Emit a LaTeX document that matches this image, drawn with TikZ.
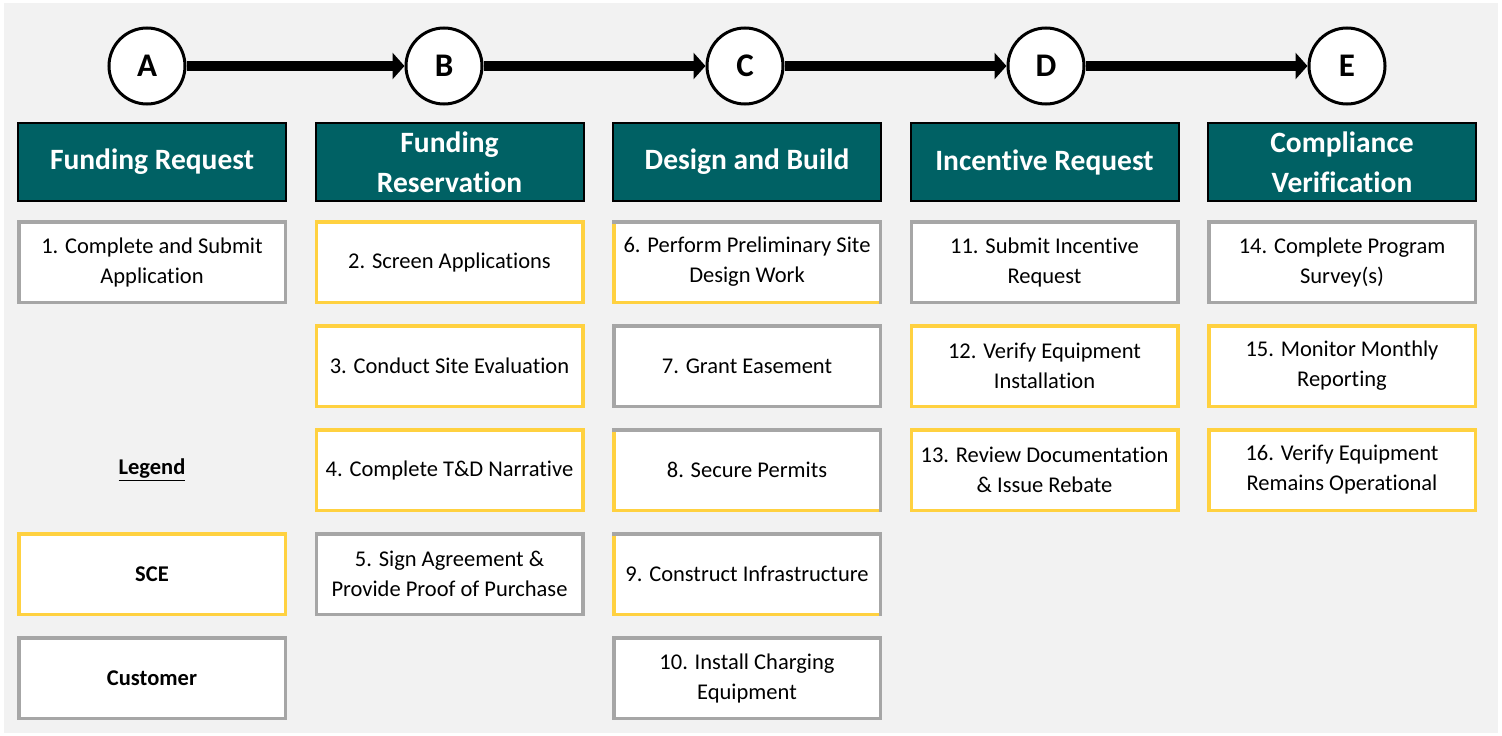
\documentclass[tikz,border=0pt]{standalone}
\usepackage{fontspec}
\setmainfont{Carlito}[Ligatures=NoCommon]
\usetikzlibrary{arrows.meta,positioning}
\definecolor{headteal}{RGB}{0,97,100}
\definecolor{scegold}{RGB}{255,209,64}
\definecolor{custgray}{RGB}{166,166,166}
\definecolor{canvas}{RGB}{242,242,242}

\begin{document}
\begin{tikzpicture}[x=1pt,y=1pt,node distance=23.5pt,
    stage/.style={circle,draw=black,line width=3pt,fill=white,minimum size=76pt,
      inner sep=0pt,font=\fontsize{33}{40}\selectfont\bfseries},
    head/.style={draw=black,line width=2pt,fill=headteal,text=white,
      minimum width=268pt,minimum height=78pt,align=center,
      font=\fontsize{29.5}{40}\selectfont\bfseries},
    task/.style={fill=white,line width=3.5pt,outer sep=0pt,minimum width=266.5pt,
      minimum height=80.5pt,align=center,font=\fontsize{22.5}{30}\selectfont},
    sce/.style={task,draw=scegold},
    cust/.style={task,draw=custgray},
    flow/.style={line width=10pt,-{Triangle[length=12pt,width=26pt]}}]
  \useasboundingbox (0,0) rectangle (1502,-736);
  \fill[canvas] (4,-3) rectangle (1498,-733);

  % stages
  \node[stage] (A) at (147,-66) {A};
  \node[stage] (B) at (444,-66) {B};
  \node[stage] (C) at (745,-66) {C};
  \node[stage] (D) at (1046,-66) {D};
  \node[stage] (E) at (1347,-66) {E};
  \foreach \a/\b in {A/B,B/C,C/D,D/E}
    \draw[flow] (\a) -- (\b);

  % headers
  \node[head] (h1) at (152,-162) {Funding Request};
  \node[head] (h2) [right=27.5pt of h1] {Funding\\Reservation};
  \node[head] (h3) [right=27.5pt of h2] {Design and Build};
  \node[head] (h4) [right=27.5pt of h3] {Incentive Request};
  \node[head] (h5) [right=27.5pt of h4] {Compliance\\Verification};

  % funding request + legend
  \node[cust] (t1) [below=19.75pt of h1] {1. Complete and Submit\\Application};
  \node[task,fill=none,font=\fontsize{22.5}{30}\selectfont\bfseries] (lg) [below=127.5pt of t1] {\underline{Legend}};
  \node[sce,font=\fontsize{22.5}{30}\selectfont\bfseries] (lsce) [below=of lg] {SCE};
  \node[cust,font=\fontsize{22.5}{30}\selectfont\bfseries] (lcust) [below=of lsce] {Customer};

  % funding reservation
  \node[sce] (t2) [below=19.75pt of h2] {2. Screen Applications};
  \node[sce] (t3) [below=of t2] {3. Conduct Site Evaluation};
  \node[sce] (t4) [below=of t3] {4. Complete T\&D Narrative};
  \node[cust] (t5) [below=of t4] {5. Sign Agreement \&\\Provide Proof of Purchase};

  % design and build
  \node[cust] (t6) [below=19.75pt of h3] {6. Perform Preliminary Site\\Design Work};
  \node[cust] (t7) [below=of t6] {7. Grant Easement};
  \node[cust] (t8) [below=of t7] {8. Secure Permits};
  \node[cust] (t9) [below=of t8] {9. Construct Infrastructure};
  \node[cust] (t10) [below=of t9] {10. Install Charging\\Equipment};
  \foreach \t in {t6,t8,t9}
    \draw[scegold,line width=3.5pt] ([yshift=-1.75pt]\t.north west) -- (\t.south west)
      -- ([xshift=-1.75pt]\t.south east);

  % incentive request
  \node[cust] (t11) [below=19.75pt of h4] {11. Submit Incentive\\Request};
  \node[sce] (t12) [below=of t11] {12. Verify Equipment\\Installation};
  \node[sce] (t13) [below=of t12] {13. Review Documentation\\\& Issue Rebate};

  % compliance verification
  \node[cust] (t14) [below=19.75pt of h5] {14. Complete Program\\Survey(s)};
  \node[sce] (t15) [below=of t14] {15. Monitor Monthly\\Reporting};
  \node[sce] (t16) [below=of t15] {16. Verify Equipment\\Remains Operational};
\end{tikzpicture}
\end{document}
